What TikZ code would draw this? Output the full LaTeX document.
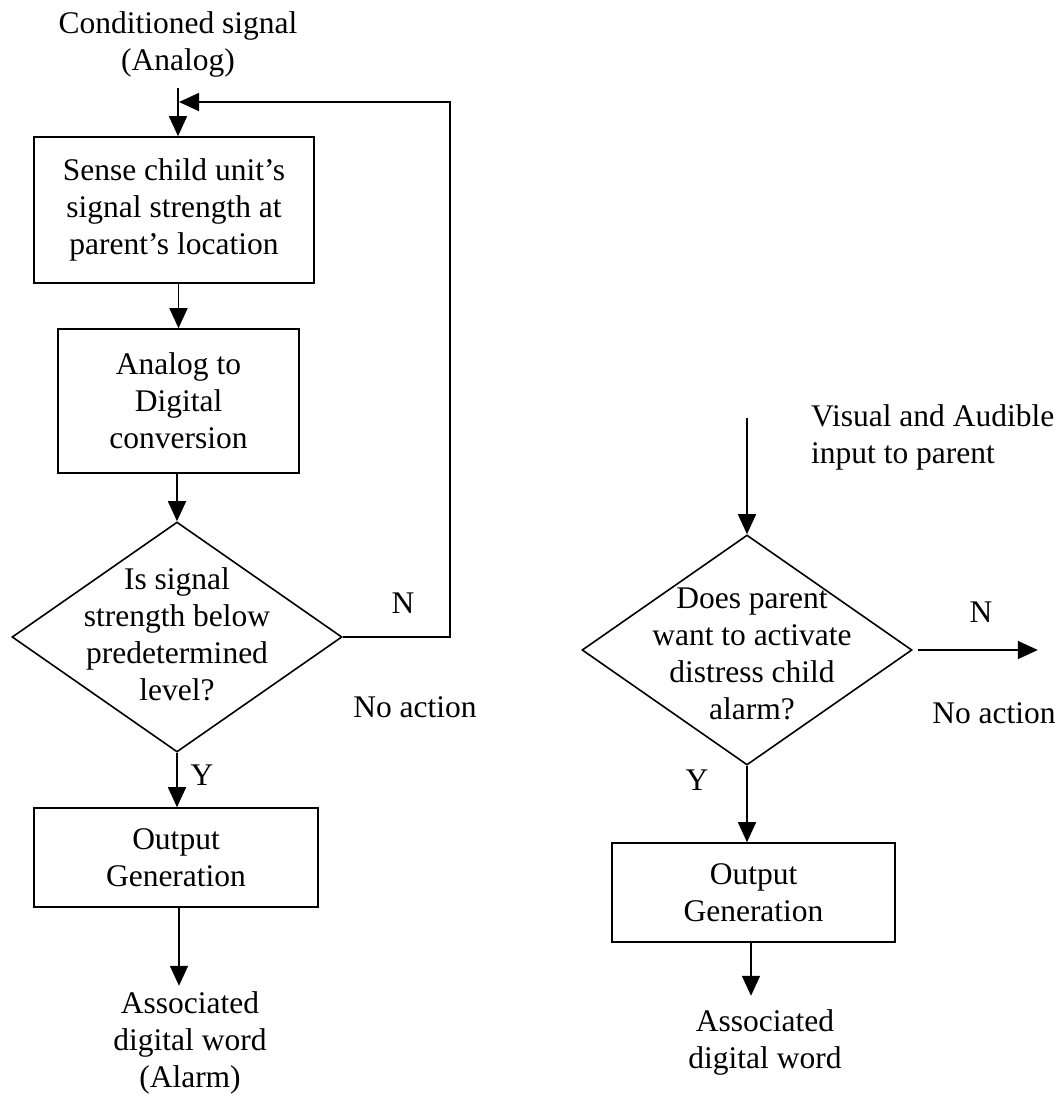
\documentclass[tikz,border=0pt]{standalone}
\usepackage{fontspec}
\setmainfont{Liberation Serif}
\usetikzlibrary{arrows.meta,shapes.geometric,calc}
\begin{document}
\begin{tikzpicture}[x=1pt,y=-1pt,
  every node/.style={font=\fontsize{31.5}{37}\selectfont, align=center, inner sep=0pt},
  blk/.style={draw, line width=1.6pt, rectangle},
  dec/.style={draw, line width=1.6pt, diamond, minimum width=330pt, minimum height=230pt, inner sep=0pt},
  arr/.style={line width=1.6pt, -{Triangle[length=20pt,width=18pt]}},
  ln/.style={line width=1.6pt}]
\useasboundingbox (0,0) rectangle (1064,1098);
% ---------- left flow ----------
\node (c1) at (178,44) {Conditioned signal\\(Analog)};
\coordinate (in1) at (178,88);
\coordinate (fb) at (179,102);
\node[blk, minimum width=280pt, minimum height=146pt] (b1) at (174,210) {Sense child unit’s\\signal strength at\\parent’s location};
\node[blk, minimum width=241pt, minimum height=144pt] (b2) at (178.5,401) {Analog to\\Digital\\conversion};
\node[dec] (d1) at (177,637) {};
\node (t1) at (177,634) {Is signal\\strength below\\predetermined\\level?};
\node (n1) at (403,603) {N};
\node (na1) at (415,707) {No action};
\node (y1) at (202,775) {Y};
\node[blk, minimum width=284pt, minimum height=99pt] (b3) at (176,857.5) {Output\\Generation};
\node (o1) at (190,1043) {Associated\\digital word\\(Alarm)};
\draw[arr] (in1) -- (in1 |- b1.north);
\draw[arr] (d1.east) -- ++(107,0) |- (fb);
\draw[arr] (b1.south -| b2.north) -- (b2.north);
\draw[arr] (b2.south -| d1.north) -- (d1.north);
\draw[arr] (d1.south) -- (d1.south |- b3.north);
\draw[arr] ([xshift=3pt]b3.south) -- ++(0,78);
% ---------- right flow ----------
\node[anchor=west, align=left] (c2) at (811,437) {Visual and Audible\\input to parent};
\coordinate (in2) at (747,418);
\node[dec] (d2) at (747,650) {};
\node (t2) at (752,654) {Does parent\\want to activate\\distress child\\alarm?};
\node (n2) at (981,612) {N};
\node (na2) at (994,713) {No action};
\node (y2) at (697,780) {Y};
\node[blk, minimum width=283pt, minimum height=99pt] (b4) at (753.5,892.5) {Output\\Generation};
\node (o2) at (765,1042) {Associated\\digital word};
\draw[arr] (in2) -- (d2.north);
\draw[arr] ([xshift=5pt]d2.east) -- ++(120,0);
\draw[arr] (d2.south) -- (d2.south |- b4.north);
\draw[arr] ([xshift=-2.5pt]b4.south) -- ++(0,53);
\end{tikzpicture}
\end{document}
